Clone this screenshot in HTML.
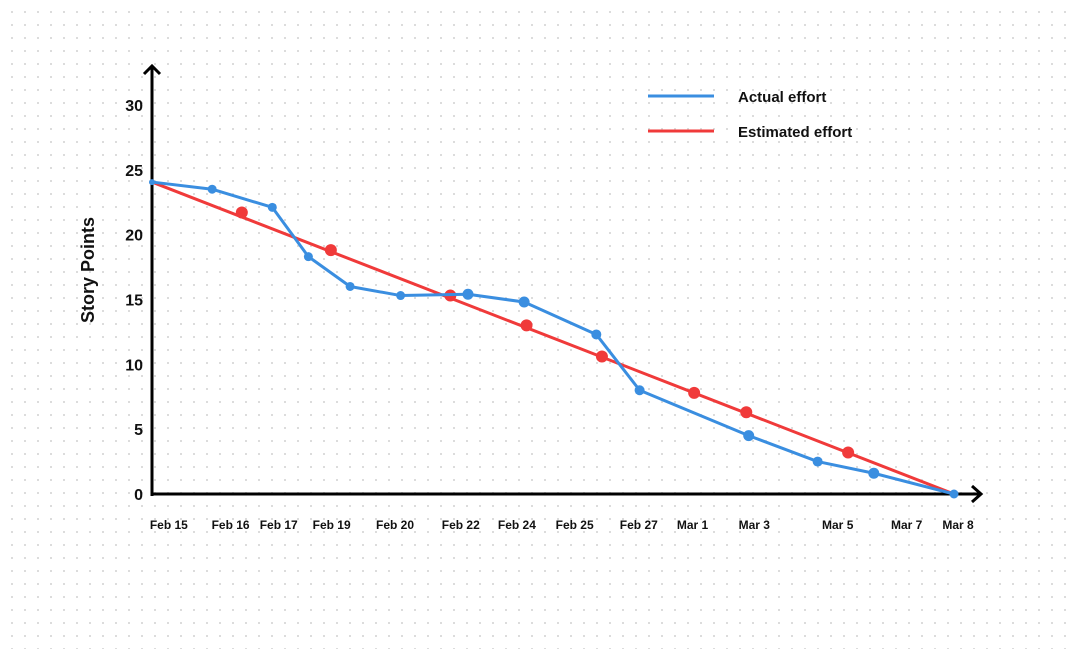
<!DOCTYPE html>
<html><head><meta charset="utf-8"><style>
body{margin:0;background:#fff}
svg{display:block;font-family:"Liberation Sans",sans-serif}
</style></head><body>
<svg id="c" width="1068" height="649">
<defs><pattern id="dots" x="0" y="0" width="13" height="13" patternUnits="userSpaceOnUse"><rect x="11" y="11" width="2.4" height="2.4" fill="#dcdcdc"/></pattern></defs>
<rect width="1068" height="649" fill="#fff"/>
<rect width="1068" height="649" fill="url(#dots)"/>
<g id="plot"></g>
<g>
<line x1="648" y1="96" x2="714" y2="96" stroke="#3a8ee0" stroke-width="3"/>
<text x="738" y="102" font-size="15" font-weight="bold" fill="#111">Actual effort</text>
<line x1="648" y1="131" x2="714" y2="131" stroke="#f03a3a" stroke-width="3"/>
<text x="738" y="137" font-size="15" font-weight="bold" fill="#111">Estimated effort</text>
</g>
<text transform="translate(94,270) rotate(-90)" text-anchor="middle" font-size="18" font-weight="bold" fill="#111">Story Points</text>
</svg>
<script>
const xLabels=["Feb 15","Feb 16","Feb 17","Feb 19","Feb 20","Feb 22","Feb 24","Feb 25","Feb 27","Mar 1","Mar 3","Mar 5","Mar 7","Mar 8"];
const xLabelPos=[2.1,9.8,15.8,22.4,30.3,38.5,45.5,52.7,60.7,67.4,75.1,85.5,94.1,100.5];
const yTicks=[0,5,10,15,20,25,30];
const actualX=[0,7.5,15,19.5,24.7,31,39.4,46.4,55.4,60.8,74.4,83,90,100];
const actualY=[24.05,23.5,22.1,18.3,16.0,15.3,15.4,14.8,12.3,8.0,4.5,2.5,1.6,0];
const actualR=[3,4.5,4.5,4.5,4.5,4.5,5.5,5.5,5,5,5.5,5,5.5,4.5];
const estLineX=[0,100];
const estLineY=[24.05,0];
const estX=[11.2,22.3,37.2,46.7,56.1,67.6,74.1,86.8];
const estY=[21.7,18.8,15.3,13.0,10.6,7.8,6.3,3.2];

const X0=152,X1=954,Y0=494,PY=12.97;
const sx=u=>X0+(X1-X0)*u/100;
const sy=v=>Y0-v*PY;
const NS="http://www.w3.org/2000/svg";
const g=document.getElementById('plot');
function mk(t,a){const e=document.createElementNS(NS,t);for(const k in a)e.setAttribute(k,a[k]);g.appendChild(e);return e;}

yTicks.forEach(v=>{const t=mk('text',{x:143,y:sy(v)+6,'text-anchor':'end','font-size':16,'font-weight':'bold',fill:'#111'});t.textContent=v;

});
xLabels.forEach((s,i)=>{const t=mk('text',{x:sx(xLabelPos[i]),y:529,'text-anchor':'middle','font-size':12,'font-weight':'bold',fill:'#111'});t.textContent=s;

});

let e=mk('line',{x1:X0,y1:Y0,x2:980,y2:Y0,stroke:'#000','stroke-width':3});


e=mk('polyline',{points:`972,486 981,494 972,502`,fill:'none',stroke:'#000','stroke-width':3});


e=mk('line',{x1:X0,y1:Y0+2,x2:X0,y2:67,stroke:'#000','stroke-width':3});


e=mk('polyline',{points:`144,74 152,66 160,74`,fill:'none',stroke:'#000','stroke-width':3});



e=mk('polyline',{points:estLineX.map((x,i)=>sx(x)+','+sy(estLineY[i])).join(' '),fill:'none',stroke:'#f03a3a','stroke-width':3});


estX.forEach((x,i)=>{const c=mk('circle',{cx:sx(x),cy:sy(estY[i]),r:6,fill:'#f03a3a'});

});

e=mk('polyline',{points:actualX.map((x,i)=>sx(x)+','+sy(actualY[i])).join(' '),fill:'none',stroke:'#3a8ee0','stroke-width':3,'stroke-linejoin':'round'});


actualX.forEach((x,i)=>{const c=mk('circle',{cx:sx(x),cy:sy(actualY[i]),r:actualR[i],fill:'#3a8ee0'});

});
</script>
</body></html>
